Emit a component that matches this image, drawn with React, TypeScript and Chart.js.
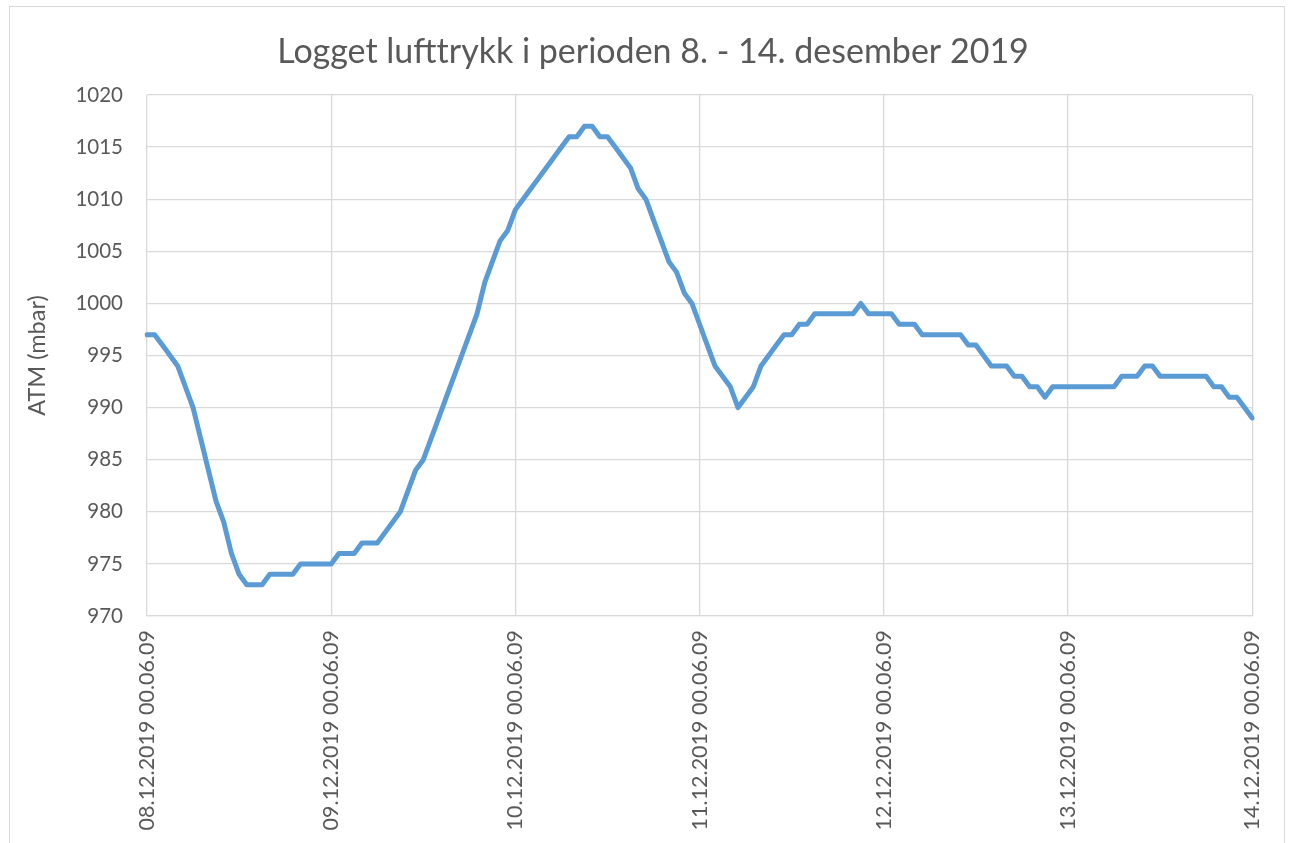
import React, { useEffect, useRef } from "react";
import { Chart, registerables } from "chart.js";

Chart.register(...registerables);

const TITLE = "Logget lufttrykk i perioden 8. - 14. desember 2019";
const Y_TITLE = "ATM (mbar)";
const START_DAY = 8;
const HOURS_PER_DAY = 24;
const Y_MIN = 970;
const Y_MAX = 1020;
const Y_STEP = 5;

// hourly logged air pressure (mbar), 08.12.2019 00:06:09 -> 14.12.2019 00:06:09
const PRESSURE = [
  997, 997, 996, 995, 994, 992, 990, 987, 984, 981, 979, 976, 974, 973, 973, 973, 974, 974, 974, 974, 975, 975, 975, 975,
  975, 976, 976, 976, 977, 977, 977, 978, 979, 980, 982, 984, 985, 987, 989, 991, 993, 995, 997, 999, 1002, 1004, 1006, 1007,
  1009, 1010, 1011, 1012, 1013, 1014, 1015, 1016, 1016, 1017, 1017, 1016, 1016, 1015, 1014, 1013, 1011, 1010, 1008, 1006, 1004, 1003, 1001, 1000,
  998, 996, 994, 993, 992, 990, 991, 992, 994, 995, 996, 997, 997, 998, 998, 999, 999, 999, 999, 999, 999, 1000, 999, 999,
  999, 999, 998, 998, 998, 997, 997, 997, 997, 997, 997, 996, 996, 995, 994, 994, 994, 993, 993, 992, 992, 991, 992, 992,
  992, 992, 992, 992, 992, 992, 992, 993, 993, 993, 994, 994, 993, 993, 993, 993, 993, 993, 993, 992, 992, 991, 991, 990,
  989,
];

const pad2 = (n: number) => (n < 10 ? "0" + n : String(n));
const CATEGORIES = PRESSURE.map(
  (_, i) => `${pad2(START_DAY + Math.floor(i / HOURS_PER_DAY))}.12.2019 ${pad2(i % HOURS_PER_DAY)}.06.09`
);

const FONT = "Lato, 'Open Sans', sans-serif";
const TEXT_COLOR = "#595959";
const GRID_COLOR = "#d9d9d9";
const LINE_COLOR = "#5b9bd5";

const titlePlugin = {
  id: "excelTitle",
  afterDraw(chart: any) {
    const ctx = chart.ctx;
    ctx.save();
    ctx.font = `34px ${FONT}`;
    ctx.fillStyle = TEXT_COLOR;
    ctx.textAlign = "center";
    ctx.textBaseline = "alphabetic";
    ctx.fillText(TITLE, 653, 63);
    ctx.restore();
  },
};

export default function App() {
  const ref = useRef<HTMLCanvasElement | null>(null);

  useEffect(() => {
    if (!ref.current) return;
    const chart = new Chart(ref.current, {
      type: "line",
      data: {
        labels: CATEGORIES,
        datasets: [
          {
            data: PRESSURE,
            borderColor: LINE_COLOR,
            backgroundColor: LINE_COLOR,
            borderWidth: 5,
            pointRadius: 0,
            tension: 0,
            borderJoinStyle: "round",
            borderCapStyle: "round",
          },
        ],
      },
      options: {
        animation: false,
        responsive: false,
        maintainAspectRatio: false,
        layout: { padding: { top: 95, right: 35, bottom: 0, left: 0 } },
        plugins: {
          legend: { display: false },
          tooltip: { enabled: false },
          title: { display: false },
        },
        scales: {
          x: {
            type: "category",
            offset: false,
            afterFit(scale: any) {
              scale.height = 227;
            },
            grid: {
              color: GRID_COLOR,
              lineWidth: 1.3,
              drawTicks: false,
            },
            border: { display: true, color: GRID_COLOR, width: 1.3 },
            ticks: {
              autoSkip: false,
              maxRotation: 90,
              minRotation: 90,
              padding: 14,
              color: TEXT_COLOR,
              font: { family: FONT, size: 21.5 },
              callback(this: any, value: any, index: number) {
                return index % HOURS_PER_DAY === 0 ? this.getLabelForValue(value) : null;
              },
            },
          },
          y: {
            min: Y_MIN,
            max: Y_MAX,
            afterFit(scale: any) {
              scale.width = 147;
            },
            grid: { color: GRID_COLOR, lineWidth: 1.3, drawTicks: false },
            border: { display: false },
            ticks: {
              stepSize: Y_STEP,
              padding: 24,
              color: TEXT_COLOR,
              font: { family: FONT, size: 20.5 },
              callback(value: any) {
                return String(value);
              },
            },
            title: {
              display: true,
              text: Y_TITLE,
              color: TEXT_COLOR,
              font: { family: FONT, size: 23.5 },
              padding: { top: 23, bottom: 0 },
            },
          },
        },
      },
      plugins: [titlePlugin],
    });
    return () => chart.destroy();
  }, []);

  return (
    <div
      style={{
        position: "absolute",
        left: 0,
        top: 0,
        width: 1292,
        height: 843,
        overflow: "hidden",
        background: "#ffffff",
      }}
    >
      <div
        style={{
          position: "absolute",
          left: 9,
          top: 6,
          width: 1274,
          height: 900,
          border: `1px solid ${GRID_COLOR}`,
        }}
      />
      <canvas
        ref={ref}
        width={1292}
        height={843}
        style={{ position: "absolute", left: 0, top: 0, width: 1292, height: 843 }}
      />
    </div>
  );
}
